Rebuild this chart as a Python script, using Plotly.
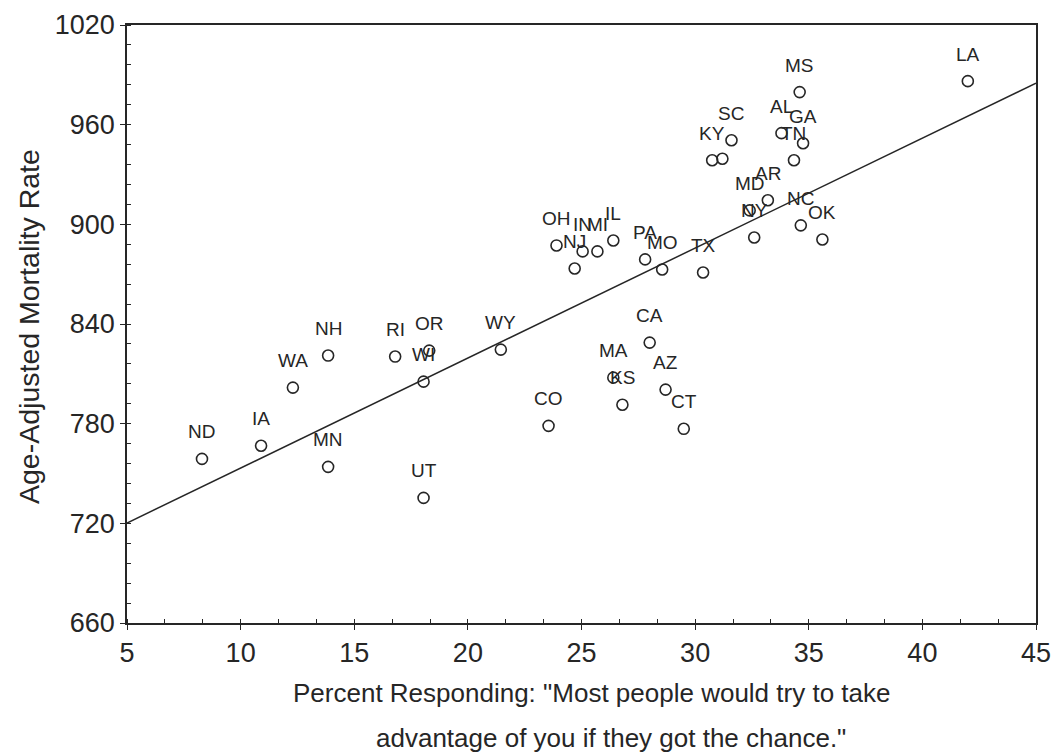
import plotly.graph_objects as go

states = ["ND", "IA", "WA", "NH", "MN", "RI", "OR", "WI", "UT", "WY", "CO",
          "OH", "NJ", "IN", "MI", "IL", "PA", "MO", "TX", "CA", "MA", "KS",
          "AZ", "CT", "KY", "", "SC", "MD", "AR", "NY", "AL", "MS", "GA",
          "TN", "NC", "OK", "LA"]
pct = [8.3, 10.9, 12.3, 13.85, 13.85, 16.8, 18.3, 18.05, 18.05, 21.45, 23.55,
       23.9, 24.7, 25.05, 25.7, 26.4, 27.8, 28.55, 30.35, 28.0, 26.4, 26.8,
       28.7, 29.5, 30.75, 31.2, 31.6, 32.4, 33.2, 32.6, 33.8, 34.6, 34.75,
       34.35, 34.65, 35.6, 42.0]
mortality = [758.8, 766.7, 801.7, 821.0, 754.0, 820.4, 824.0, 805.3, 735.3, 824.6, 778.7,
             887.3, 873.4, 883.7, 883.7, 890.3, 878.9, 872.8, 871.0, 828.8, 807.7, 791.4,
             800.5, 776.9, 938.6, 939.5, 950.6, 908.4, 914.5, 892.1, 954.9, 979.6, 948.8,
             938.6, 899.4, 890.9, 986.2]

fit_x = [5, 45]
fit_y = [720.2, 985.0]

x_ticks = [5, 10, 15, 20, 25, 30, 35, 40, 45]
y_ticks = [660, 720, 780, 840, 900, 960, 1020]

x_title = ['Percent Responding: "Most people would try to take',
           'advantage of you if they got the chance."']
y_title = "Age-Adjusted Mortality Rate"

ink = "#262626"
font = "Liberation Sans, Arial, sans-serif"

# the page body adds an 8px offset; figure coords = screen coords - 8
OFF = 8
W, H = 1061 - OFF, 755 - OFF
L, T = 127 - OFF, 25 - OFF
R = W - (1036 - OFF)
B = H - (623 - OFF)

fig = go.Figure()
fig.add_trace(go.Scatter(x=fit_x, y=fit_y, mode="lines",
                         line=dict(color=ink, width=1.5), hoverinfo="skip"))
fig.add_trace(go.Scatter(x=pct, y=mortality, mode="markers", text=states,
                         marker=dict(symbol="circle-open", size=11, color=ink,
                                     line=dict(width=1.6, color=ink))))

for s, xv, yv in zip(states, pct, mortality):
    if s:
        fig.add_annotation(x=xv, y=yv, text=s, showarrow=False, yshift=27,
                           font=dict(family=font, size=19, color=ink))

axis_common = dict(showgrid=False, zeroline=False, showline=True, linecolor=ink,
                   linewidth=1.5, mirror=True, ticks="outside", ticklen=5,
                   tickcolor=ink, automargin=False,
                   tickfont=dict(family=font, size=27, color=ink))

fig.update_xaxes(range=[5, 45], tickvals=x_ticks, ticktext=[str(v) for v in x_ticks],
                 minor=dict(ticks="inside", ticklen=4, dtick=5/3, tickcolor=ink),
                 **axis_common)
fig.update_yaxes(range=[660, 1020], tickvals=y_ticks, ticktext=[str(v) for v in y_ticks],
                 minor=dict(ticks="inside", ticklen=4, dtick=12, tickcolor=ink),
                 **axis_common)

def px_x(p):
    return (p - OFF - L) / (W - L - R)

def px_y(p):
    return (H - B - (p - OFF)) / (H - T - B)

fig.add_annotation(xref="paper", yref="paper", x=px_x(591), y=px_y(693),
                   text=x_title[0], showarrow=False, xanchor="center", yanchor="middle",
                   font=dict(family=font, size=26, color=ink))
fig.add_annotation(xref="paper", yref="paper", x=px_x(611), y=px_y(738),
                   text=x_title[1], showarrow=False, xanchor="center", yanchor="middle",
                   font=dict(family=font, size=26, color=ink))
fig.add_annotation(xref="paper", yref="paper", x=px_x(29), y=px_y(327),
                   text=y_title, showarrow=False, xanchor="center", yanchor="middle",
                   textangle=-90, font=dict(family=font, size=28.5, color=ink))

fig.update_layout(width=W, height=H, margin=dict(l=L, r=R, t=T, b=B, autoexpand=False),
                  plot_bgcolor="white", paper_bgcolor="white", showlegend=False)

fig.write_html("out.html")
